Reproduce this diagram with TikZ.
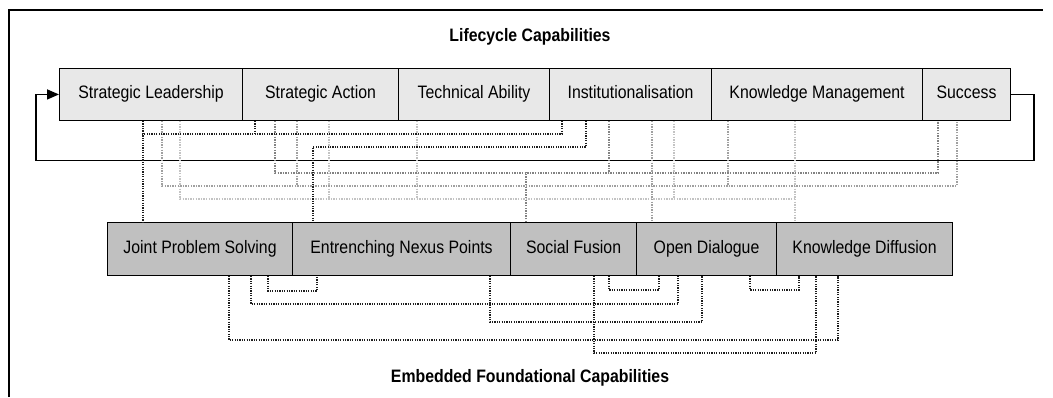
\documentclass[tikz,border=0pt]{standalone}
\usepackage{fontspec}
\setmainfont[FakeStretch=0.88]{Liberation Sans}
\usepackage{tikz}
\usetikzlibrary{arrows.meta}

\begin{document}
\begin{tikzpicture}[x=1pt, y=1pt, font=\fontsize{18}{20}\selectfont,
	lifebox/.style={draw, line width=1.1pt, fill={rgb,255:red,232;green,232;blue,232}, anchor=south west, minimum height=52pt, inner sep=0pt, text height=13pt, text depth=4pt},
	basebox/.style={draw, line width=1.1pt, fill={rgb,255:red,192;green,192;blue,192}, anchor=south west, minimum height=53pt, inner sep=0pt, text height=13pt, text depth=4pt},
	darkdot/.style={draw={rgb,255:red,30;green,30;blue,30}, line width=1.2pt, dash pattern=on 1.2pt off 1.2pt},
	midgray/.style={draw={rgb,255:red,130;green,130;blue,130}, line width=1.2pt, dash pattern=on 1.4pt off 1.2pt},
	palegray/.style={draw={rgb,255:red,160;green,160;blue,160}, line width=1.2pt, dash pattern=on 1.4pt off 1.2pt},
	faintgray/.style={draw={rgb,255:red,195;green,195;blue,195}, line width=1.2pt, dash pattern=on 1.4pt off 1.2pt}]
	\useasboundingbox (0,0) rectangle (1053,397);
	\draw[line width=1.5pt] (9,0) -- (9,387) -- (1043,387);
	\node[font=\fontsize{18}{20}\selectfont\bfseries] (top) at (530,360) {Lifecycle Capabilities};
	\node[font=\fontsize{18}{20}\selectfont\bfseries] (bottom) at (530,19) {Embedded Foundational Capabilities};
	% lifecycle row
	\node[lifebox, minimum width=183pt] (sl) at (59,276) {Strategic Leadership};
	\node[lifebox, minimum width=156pt] (sa) at (242,276) {Strategic Action};
	\node[lifebox, minimum width=151pt] (ta) at (398,276) {Technical Ability};
	\node[lifebox, minimum width=162pt] (inst) at (549,276) {Institutionalisation};
	\node[lifebox, minimum width=211pt] (km) at (711,276) {Knowledge Management};
	\node[lifebox, minimum width=88pt] (succ) at (922,276) {Success};
	% foundational row
	\node[basebox, minimum width=185pt] (jps) at (107,121) {Joint Problem Solving};
	\node[basebox, minimum width=218pt] (enp) at (292,121) {Entrenching Nexus Points};
	\node[basebox, minimum width=126pt] (sf) at (510,121) {Social Fusion};
	\node[basebox, minimum width=140pt] (od) at (636,121) {Open Dialogue};
	\node[basebox, minimum width=176pt] (kd) at (776,121) {Knowledge Diffusion};
	% feedback loop
	\draw[line width=1.5pt, -{Triangle[length=12pt,width=10pt]}] (succ.east) -- ++(23,0) -- ++(0,-66) -| ([xshift=-23pt]sl.west) -- (sl.west);
	% links between the rows
	\draw[faintgray] ([xshift=121pt]sl.south west) -- ++(0,-78) -| ([xshift=84pt]km.south west);
	\draw[faintgray] ([xshift=87pt]sa.south west) -- ++(0,-78);
	\draw[faintgray] ([xshift=19pt]ta.south west) -- ++(0,-78);
	\draw[faintgray] ([xshift=125pt]inst.south west) -- ++(0,-78);
	\draw[faintgray] ([xshift=84pt]km.south west) -- ([xshift=19pt]kd.north west);
	\draw[palegray] ([xshift=103pt]sl.south west) -- ++(0,-65) -| ([xshift=35pt]succ.south west);
	\draw[palegray] ([xshift=55pt]sa.south west) -- ++(0,-65);
	\draw[palegray] ([xshift=17pt]km.south west) -- ++(0,-65);
	\draw[palegray] ([xshift=103pt]inst.south west) -- ([xshift=16pt]od.north west);
	\draw[midgray] ([xshift=33pt]sa.south west) -- ++(0,-52) -| ([xshift=16pt]succ.south west);
	\draw[midgray] ([xshift=60pt]inst.south west) -- ++(0,-52);
	\draw[midgray] ([xshift=16pt]sf.north west) -- ++(0,50);
	\draw[darkdot] ([xshift=84pt]sl.south west) -- ([xshift=36pt]jps.north west);
	\draw[darkdot] ([xshift=13pt]inst.south west) -- ++(0,-13) -| ([xshift=84pt]sl.south west);
	\draw[darkdot] ([xshift=13pt]sa.south west) -- ++(0,-13);
	\draw[darkdot] ([xshift=37pt]inst.south west) -- ++(0,-26) -| ([xshift=21pt]enp.north west);
	% links below the foundational row
	\draw[darkdot] ([xshift=161pt]jps.south west) -- ++(0,-15) -| ([xshift=25pt]enp.south west);
	\draw[darkdot] ([xshift=144pt]jps.south west) -- ++(0,-28) -| ([xshift=42pt]od.south west);
	\draw[darkdot] ([xshift=198pt]enp.south west) -- ++(0,-46) -| ([xshift=66pt]od.south west);
	\draw[darkdot] ([xshift=99pt]sf.south west) -- ++(0,-14) -| ([xshift=23pt]od.south west);
	\draw[darkdot] ([xshift=84pt]sf.south west) -- ++(0,-77) -| ([xshift=40pt]kd.south west);
	\draw[darkdot] ([xshift=122pt]jps.south west) -- ++(0,-64) -| ([xshift=62pt]kd.south west);
	\draw[darkdot] ([xshift=114pt]od.south west) -- ++(0,-14) -| ([xshift=23pt]kd.south west);
\end{tikzpicture}
\end{document}
